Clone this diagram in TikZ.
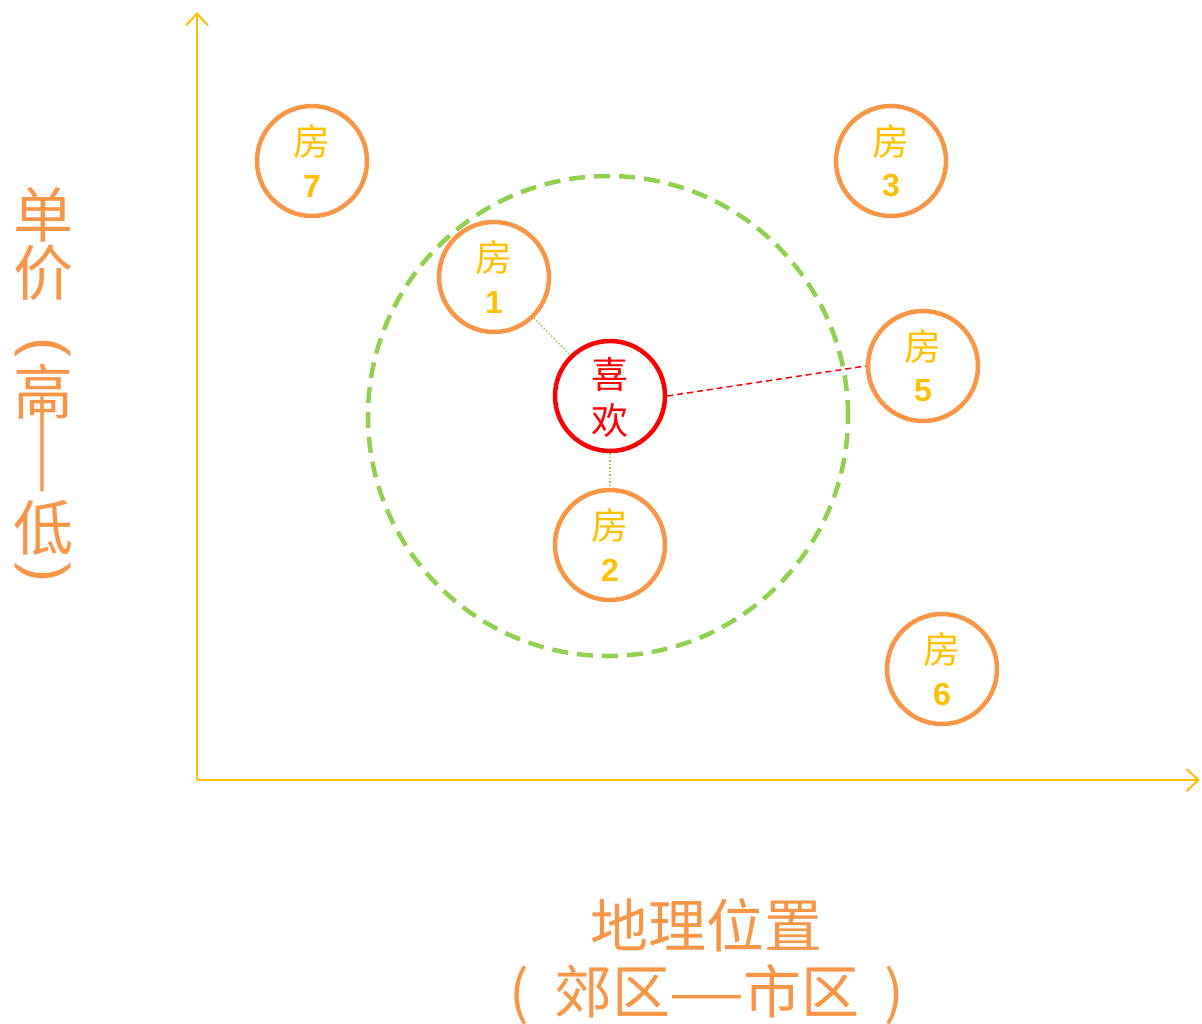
\documentclass[tikz,border=0pt]{standalone}
\usepackage{fontspec}
\setmainfont{Liberation Sans}
\newfontfamily\cjk{Noto Sans CJK SC}
\usetikzlibrary{arrows.meta,calc}
\definecolor{axisY}{HTML}{FFC000}
\definecolor{hOr}{HTML}{F79646}
\definecolor{grn}{HTML}{92D050}
\definecolor{likeRed}{HTML}{FF0000}
\tikzset{
  house/.style={circle,draw=hOr,line width=4.5pt,minimum size=110pt,inner sep=0pt},
  likebox/.style={circle,draw=likeRed,line width=4.5pt,minimum size=110pt,inner sep=0pt},
  fang/.style={inner sep=0pt,text=axisY,font=\cjk\fontsize{37}{40}\selectfont},
  num/.style={inner sep=0pt,text=axisY,font=\bfseries\fontsize{32}{34}\selectfont},
  liketext/.style={inner sep=0pt,text=likeRed,font=\cjk\fontsize{37}{40}\selectfont},
  axisline/.style={draw=axisY,line width=2pt,-{Straight Barb[length=12pt,width=22pt,line width=2pt]}},
  lab/.style={inner sep=0pt,text=hOr,font=\cjk\fontsize{60}{62}\selectfont},
  labparen/.style={inner sep=0pt,text=hOr,font=\fontsize{60}{62}\selectfont},
  xlab/.style={inner sep=0pt,text=hOr,font=\cjk\fontsize{58}{60}\selectfont},
}
\newcommand\mkhouse[4]{%
  \node[house] (#1) at (#2,#3) {};
  \node[fang] (#1f) at ($(#1)+(0,-20)$) {房};
  \node[num] (#1n) at ($(#1)+(0,25)$) {#4};
}
\begin{document}
\begin{tikzpicture}[x=1pt,y=-1pt]
\useasboundingbox (0,0) rectangle (1202,1023);
% axes
\coordinate (O) at (197,780);
\coordinate (Ytop) at (197,12);
\coordinate (Xend) at (1200,780);
\draw[axisline] (O) -- (Ytop);
\draw[axisline] (O) -- (Xend);
% green dashed circle
\node[circle,draw=grn,line width=4.5pt,dash pattern=on 16pt off 9pt,minimum size=480pt,inner sep=0pt] (range) at (608,416) {};
% houses
\mkhouse{h7}{312}{161}{7}
\mkhouse{h3}{891}{161}{3}
\mkhouse{h1}{494}{277}{1}
\mkhouse{h5}{923}{366}{5}
\mkhouse{h2}{610}{545}{2}
\mkhouse{h6}{942}{669}{6}
% like node
\node[likebox] (like) at (610,396) {};
\node[liketext] (like1) at (610,374) {喜};
\node[liketext] (like2) at (610,420) {欢};
% connectors
\draw[grn,line width=1.5pt,dotted] (h1) -- (like);
\draw[grn,line width=1.5pt,dotted] (like) -- (h2);
\draw[likeRed,line width=1.5pt,dash pattern=on 6pt off 4pt] (like.east) -- (h5.west);
% y label
\node[lab] (y1) at (43,215) {单};
\node[lab] (y2) at (43,273) {价};
\node[labparen,rotate=-90] (y3) at (43,347) {(};
\node[lab] (y4) at (43,392) {高};
\node[lab] (y5) at (43,444) {\scalebox{1.4}[1.85]{︱}};
\node[lab] (y6) at (43,528) {低};
\node[labparen,rotate=-90] (y7) at (43,572) {)};
% x label
\node[xlab] (x1) at (706,925) {地理位置};
\node[xlab] (x2) at (707,995) {(\hspace{12pt} 郊区\scalebox{0.75}[1]{——}市区 \hspace{12pt})};
\end{tikzpicture}
\end{document}
